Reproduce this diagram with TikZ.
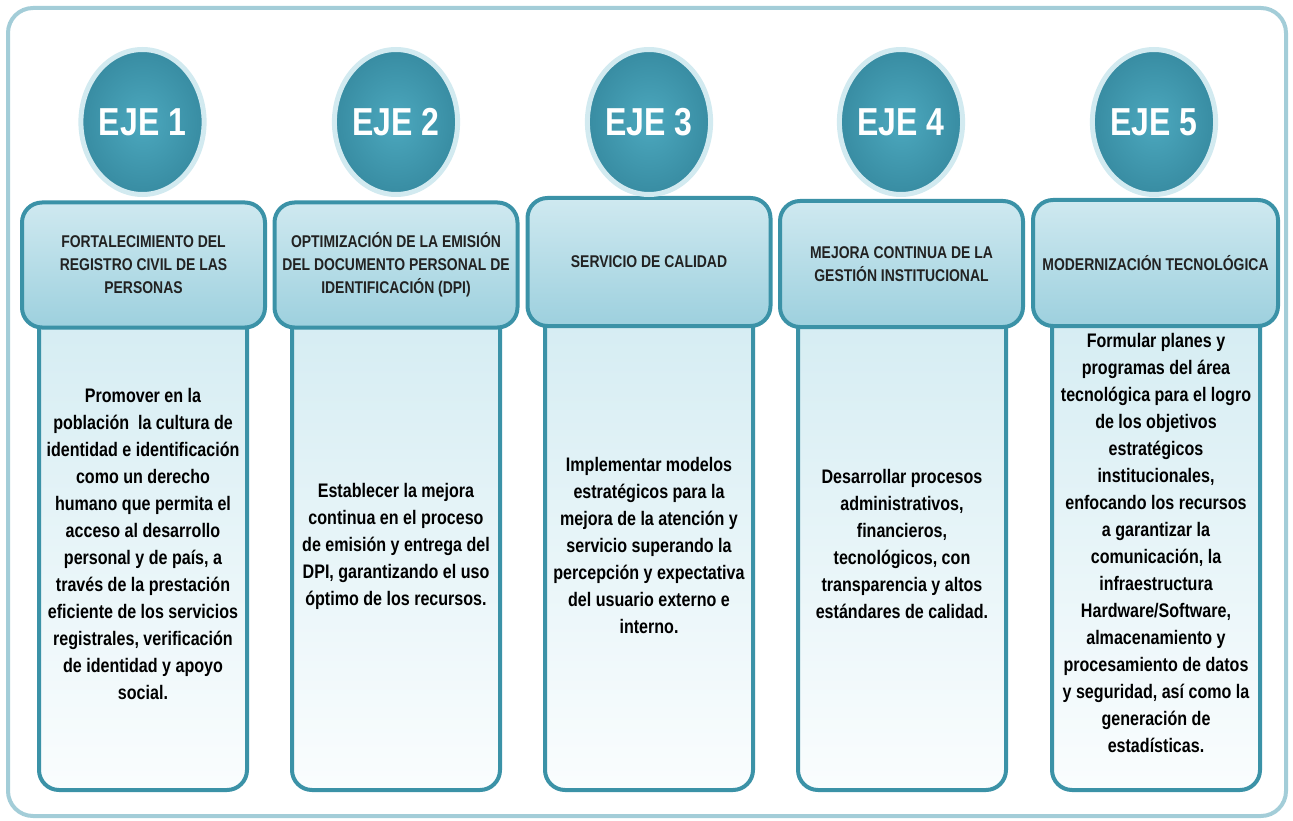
\documentclass[tikz,border=0pt]{standalone}
\usepackage{fontspec}
\setmainfont{Liberation Sans}[FakeStretch=0.82]
\usetikzlibrary{shapes.geometric}
\definecolor{frame}{HTML}{A3CDD8}
\definecolor{teal}{HTML}{3B92A7}
\definecolor{hdtop}{HTML}{CFE9F0}
\definecolor{hdbot}{HTML}{9DD0DE}
\definecolor{bdtop}{HTML}{D4ECF2}
\definecolor{bdbot}{HTML}{FAFDFE}
\definecolor{ring}{HTML}{D2EAF0}
\definecolor{ballin}{HTML}{4CA8BE}
\definecolor{ballout}{HTML}{388CA2}
\definecolor{hdtext}{HTML}{222222}
\tikzset{
  headbox/.style={draw=teal, line width=4pt, rounded corners=20pt, top color=hdtop, bottom color=hdbot,
    minimum width=243pt, minimum height=125pt, inner sep=0pt, align=center,
    font=\bfseries\fontsize{17}{23}\selectfont, text=hdtext},
  bodybox/.style={draw=teal, line width=4pt, rounded corners=20pt, top color=bdtop, bottom color=bdbot,
    minimum width=208pt, minimum height=490pt, inner sep=0pt},
  bodytext/.style={align=center, font=\bfseries\fontsize{19.6}{27}\selectfont, text=black, inner sep=0pt},
  ejeball/.style={ellipse, draw=ring, line width=5pt, inner color=ballin, outer color=ballout,
    minimum width=122pt, minimum height=145pt, inner sep=0pt,
    font=\bfseries\fontsize{39}{41}\selectfont, text=white}
}
\begin{document}
\begin{tikzpicture}[x=1pt,y=-1pt]
\useasboundingbox (0,0) rectangle (1293,821);
\draw[frame, line width=4pt, rounded corners=25pt] (8,8) rectangle (1286,816);
% bodies
\node[bodybox] (b1) at (143,545) {};
\node[bodybox] (b2) at (396,545) {};
\node[bodybox] (b3) at (649,545) {};
\node[bodybox] (b4) at (902,545) {};
\node[bodybox] (b5) at (1156,545) {};
% headers
\node[headbox] (h1) at (143.5,265) {FORTALECIMIENTO DEL\\REGISTRO CIVIL DE LAS\\PERSONAS};
\node[headbox] (h2) at (396,265) {OPTIMIZACIÓN DE LA EMISIÓN\\DEL DOCUMENTO PERSONAL DE\\IDENTIFICACIÓN (DPI)};
\node[headbox, minimum height=128pt] (h3) at (649,262) {SERVICIO DE CALIDAD};
\node[headbox, minimum height=126pt] (h4) at (901.5,264) {MEJORA CONTINUA DE LA\\GESTIÓN INSTITUCIONAL};
\node[headbox, minimum height=126pt, minimum width=245pt] (h5) at (1155.5,263) {MODERNIZACIÓN TECNOLÓGICA};
% balls
\node[ejeball] (e1) at (142.5,122) {EJE 1};
\node[ejeball] (e2) at (396,122) {EJE 2};
\node[ejeball] (e3) at (649,122) {EJE 3};
\node[ejeball] (e4) at (901,122) {EJE 4};
\node[ejeball] (e5) at (1154,122) {EJE 5};
% body texts
\node[bodytext] (t1) at (143,544) {Promover en la\\población\ \ la cultura de\\identidad e identificación\\como un derecho\\humano que permita el\\acceso al desarrollo\\personal y de país, a\\través de la prestación\\eficiente de los servicios\\registrales, verificación\\de identidad y apoyo\\social.};
\node[bodytext] (t2) at (396,546) {Establecer la mejora\\continua en el proceso\\de emisión y entrega del\\DPI, garantizando el uso\\óptimo de los recursos.};
\node[bodytext] (t3) at (649,545) {Implementar modelos\\estratégicos para la\\mejora de la atención y\\servicio superando la\\percepción y expectativa\\del usuario externo e\\interno.};
\node[bodytext] (t4) at (902,544) {Desarrollar procesos\\administrativos,\\financieros,\\tecnológicos, con\\transparencia y altos\\estándares de calidad.};
\node[bodytext] (t5) at (1156,543) {Formular planes y\\programas del área\\tecnológica para el logro\\de los objetivos\\estratégicos\\institucionales,\\enfocando los recursos\\a garantizar la\\comunicación, la\\infraestructura\\Hardware/Software,\\almacenamiento y\\procesamiento de datos\\y seguridad, así como la\\generación de\\estadísticas.};
\end{tikzpicture}
\end{document}
